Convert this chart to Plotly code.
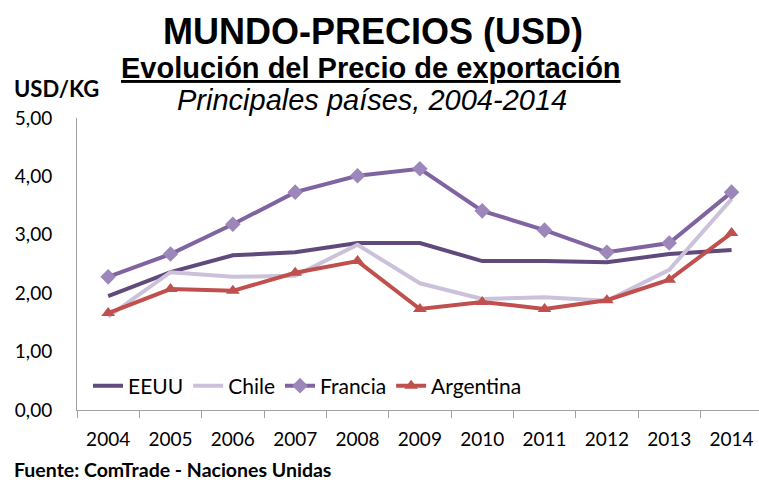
import plotly.graph_objects as go

years = ["2004", "2005", "2006", "2007", "2008", "2009", "2010", "2011", "2012", "2013", "2014"]
eeuu = [1.95, 2.36, 2.65, 2.70, 2.86, 2.86, 2.55, 2.55, 2.53, 2.67, 2.74]
chile = [1.60, 2.36, 2.28, 2.30, 2.83, 2.17, 1.90, 1.93, 1.87, 2.40, 3.61]
francia = [2.28, 2.67, 3.18, 3.73, 4.01, 4.13, 3.41, 3.08, 2.70, 2.86, 3.73]
argentina = [1.66, 2.07, 2.04, 2.35, 2.55, 1.73, 1.85, 1.73, 1.88, 2.23, 3.03]
y_ticks = [0, 1, 2, 3, 4, 5]

body_font = "Lato, Open Sans, sans-serif"
narrow_font = "Liberation Sans Narrow, Arial Narrow, Liberation Sans, Arial, sans-serif"

W, H = 759, 482
L, R, T, B = 77, 0, 118, 72
PW, PH = W - L - R, H - T - B


def px(x):
    return (x - L) / PW


def py(y):
    return (H - B - y) / PH


fig = go.Figure()
fig.add_trace(go.Scatter(x=years, y=eeuu, name="EEUU", mode="lines",
                         line=dict(color="#604A7B", width=4)))
fig.add_trace(go.Scatter(x=years, y=chile, name="Chile", mode="lines",
                         line=dict(color="#CCC1DA", width=4)))
fig.add_trace(go.Scatter(x=years, y=francia, name="Francia", mode="lines+markers",
                         line=dict(color="#8064A2", width=4),
                         marker=dict(symbol="diamond", size=12, color="#9D87BA")))
fig.add_trace(go.Scatter(x=years, y=argentina, name="Argentina", mode="lines+markers",
                         line=dict(color="#C0504D", width=4),
                         marker=dict(symbol="triangle-up", size=12, color="#C0504D")))

fig.update_layout(
    width=W, height=H,
    margin=dict(l=L, r=R, t=T, b=B, pad=0),
    paper_bgcolor="white", plot_bgcolor="white",
    separators=",.",
    showlegend=True,
    legend=dict(orientation="h", x=px(88), y=py(386), xanchor="left", yanchor="middle",
                font=dict(family=body_font, size=21, color="black"),
                bgcolor="rgba(0,0,0,0)", itemwidth=30, tracegroupgap=0),
    font=dict(family=body_font, color="black"),
)
fig.update_xaxes(type="category", range=[-0.5, 10.44], showline=True, linecolor="#A0A0A0",
                 linewidth=1, ticks="outside", tickson="boundaries", ticklen=7,
                 tickcolor="#A0A0A0", showgrid=False, zeroline=False, ticklabelstandoff=12,
                 tickfont=dict(family=body_font, size=19, color="black"))
fig.update_yaxes(range=[0, 5], tickvals=y_ticks, tickformat=".2f", showline=True,
                 linecolor="#A0A0A0", linewidth=1, ticks="", ticklabelstandoff=20,
                 showgrid=False, zeroline=False,
                 tickfont=dict(family=body_font, size=19, color="black"))

annos = [
    dict(text="<b>MUNDO-PRECIOS (USD)</b>", x=373, y=32, size=36, fam=narrow_font, anchor="center"),
    dict(text="<b><u>Evolución del Precio de exportación</u></b>", x=371, y=68, size=29, fam=narrow_font, anchor="center"),
    dict(text="<i>Principales países, 2004-2014</i>", x=372, y=100, size=29, fam=narrow_font, anchor="center"),
    dict(text="<b>USD/KG</b>", x=12, y=88, size=22, fam=body_font, anchor="left"),
    dict(text="<b>Fuente: ComTrade - Naciones Unidas</b>", x=12, y=469, size=19.5, fam=body_font, anchor="left"),
]
for a in annos:
    fig.add_annotation(text=a["text"], x=px(a["x"]), y=py(a["y"]), xref="paper", yref="paper",
                       showarrow=False, font=dict(family=a["fam"], size=a["size"], color="black"),
                       xanchor=a["anchor"], yanchor="middle")

fig.write_html("out.html", config={"displayModeBar": False},
               post_script="document.body.style.margin='0';")
